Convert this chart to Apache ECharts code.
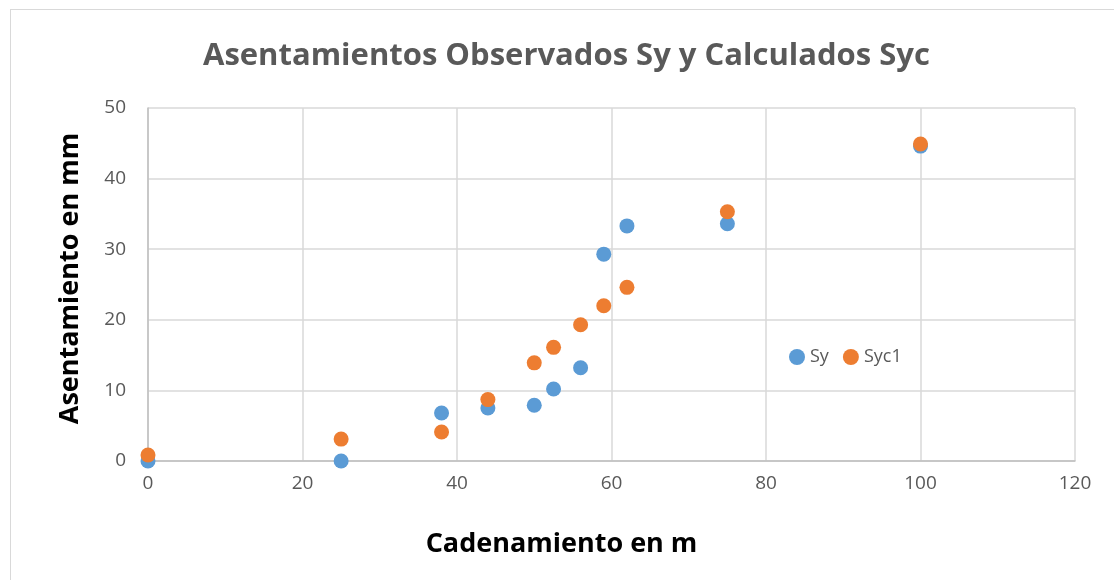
<!DOCTYPE html>
<html><head><meta charset="utf-8">
<script src="https://cdn.jsdelivr.net/npm/echarts@6/dist/echarts.min.js"></script>
<style>html,body{margin:0;padding:0;background:#fff;}#c{width:1114px;height:580px;}
#frame{position:absolute;left:10px;top:9px;width:1110px;height:580px;border:1px solid #d9d9d9;box-sizing:border-box;pointer-events:none;}</style>
</head><body><div id="c"></div><div id="frame"></div>
<script>
const cadenamiento = [0, 25, 38, 44, 50, 52.5, 56, 59, 62, 75, 100];
const sy   = [0, 0, 6.8, 7.5, 7.9, 10.2, 13.2, 29.3, 33.3, 33.6, 44.6];
const syc1 = [0.85, 3.1, 4.1, 8.7, 13.9, 16.1, 19.3, 22.0, 24.6, 35.3, 44.9];
const xTicks = [0, 20, 40, 60, 80, 100, 120];
const yTicks = [0, 10, 20, 30, 40, 50];

const chart = echarts.init(document.getElementById('c'));
const toPts = (ys) => cadenamiento.map((x, i) => [x, ys[i]]);
chart.setOption({
  animation: false,
  title: {
    text: 'Asentamientos Observados Sy y Calculados Syc',
    left: 198, top: 36,
    textStyle: {fontFamily: 'Open Sans', fontWeight: 'bold', fontSize: 31, color: '#595959'}
  },
  legend: {
    left: 784, top: 343, itemGap: 14, itemWidth: 16, itemHeight: 16,
    icon: 'circle',
    textStyle: {fontFamily: 'Open Sans', fontSize: 18, color: '#595959'},
    data: ['Sy', 'Syc1']
  },
  grid: {left: 148, right: 39, top: 108, bottom: 119},
  xAxis: {
    type: 'value', min: xTicks[0], max: xTicks[xTicks.length - 1], interval: 20,
    name: 'Cadenamiento en m', nameLocation: 'middle', nameGap: 70,
    nameTextStyle: {fontFamily: 'Open Sans', fontWeight: 'bold', fontSize: 27, color: '#000', padding: [0, 100, 0, 0]},
    axisLine: {lineStyle: {color: '#bfbfbf', width: 1.5}},
    axisTick: {show: false},
    axisLabel: {fontFamily: 'Open Sans', fontSize: 19, color: '#595959', margin: 13},
    splitLine: {lineStyle: {color: '#d9d9d9', width: 1.5}}
  },
  yAxis: {
    type: 'value', min: yTicks[0], max: yTicks[yTicks.length - 1], interval: 10,
    name: 'Asentamiento en mm', nameLocation: 'middle', nameGap: 64,
    nameTextStyle: {fontFamily: 'Open Sans', fontWeight: 'bold', fontSize: 27, color: '#000', padding: [0, 0, 0, 12]},
    axisLine: {show: true, lineStyle: {color: '#bfbfbf', width: 1.5}},
    axisTick: {show: false},
    axisLabel: {fontFamily: 'Open Sans', fontSize: 19, color: '#595959', margin: 22},
    splitLine: {lineStyle: {color: '#d9d9d9', width: 1.5}}
  },
  series: [
    {name: 'Sy', type: 'scatter', symbolSize: 15, data: toPts(sy), itemStyle: {color: '#5B9BD5', opacity: 1}},
    {name: 'Syc1', type: 'scatter', symbolSize: 15, data: toPts(syc1), itemStyle: {color: '#ED7D31', opacity: 1}}
  ]
});
</script></body></html>
